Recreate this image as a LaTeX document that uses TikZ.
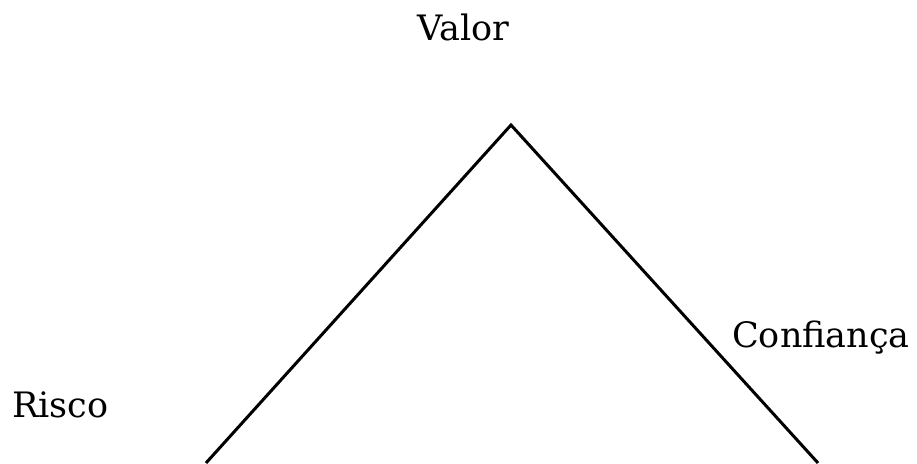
\documentclass[tikz,border=0pt]{standalone}
\usepackage{fontspec}
\setmainfont{DejaVu Serif}
\begin{document}
\begin{tikzpicture}[x=1pt,y=1pt,
  lbl/.style={anchor=base west, inner sep=0pt, font=\fontsize{35}{40}\selectfont},
  side/.style={line width=3pt, line join=miter}]
\useasboundingbox (0,0) rectangle (917,463);
\coordinate (apex) at (511,338);
\coordinate (bl) at (206,0);
\coordinate (br) at (818,0);
\draw[side] (bl) -- (apex) -- (br);
\node[lbl] (valor) at (417,422) {Valor};
\node[lbl] (conf) at (732,115) {Confiança};
\node[lbl] (risco) at (12,46) {Risco};
\end{tikzpicture}
\end{document}
